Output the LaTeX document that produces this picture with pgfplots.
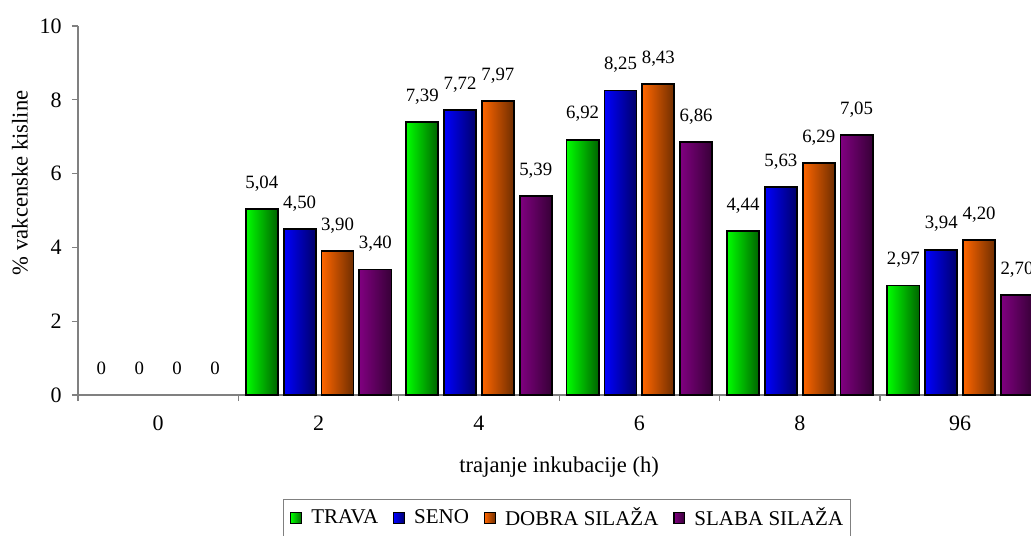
\documentclass[border=0pt]{standalone}
\usepackage{pgfplots}
\usepackage{pgfplotstable}
\pgfplotsset{compat=1.18}
\usepackage{fontspec}
\setmainfont{Liberation Serif}

% bar colours: bright face fading to a dark right edge
\definecolor{travaA}{RGB}{0,255,0}
\definecolor{travaB}{RGB}{0,100,0}
\definecolor{senoA}{RGB}{0,0,255}
\definecolor{senoB}{RGB}{0,0,105}
\definecolor{dobraA}{RGB}{255,102,0}
\definecolor{dobraB}{RGB}{110,45,0}
\definecolor{slabaA}{RGB}{128,0,128}
\definecolor{slabaB}{RGB}{55,0,55}

% x = category index (0 h, 2 h, 4 h, 6 h, 8 h, 96 h)
\pgfplotstableread{
x trava seno dobra slaba
0 0    0    0    0
1 5.04 4.50 3.90 3.40
2 7.39 7.72 7.97 5.39
3 6.92 8.25 8.43 6.86
4 4.44 5.63 6.29 7.05
5 2.97 3.94 4.20 2.70
}\vkdata

\pgfplotsset{
  shadedbar/.style n args={2}{draw=black, line width=0.9pt,
    left color=#1, middle color=#1, right color=#2},
  % one bar per plot, so that each bar gets its own shading
  onebar/.style={forget plot, restrict x to domain=#1:#1},
  zerolabel/.style={draw=none, fill=none, forget plot,
    restrict x to domain=0:0},
}

\begin{document}
\begin{tikzpicture}
\begin{axis}[
  at={(0,0)}, anchor=south west,
  scale only axis, width=481.2pt, height=184.5pt,
  xmin=-0.5, xmax=5.5, ymin=0, ymax=10,
  axis lines*=left,
  axis line style={gray, line width=0.6pt},
  tick align=outside,
  major tick length=3pt,
  tick style={gray, line width=0.6pt},
  xtick={-0.5,0.5,...,5.5},
  xticklabels={},
  extra x ticks={0,1,2,3,4,5},
  extra x tick labels={0,2,4,6,8,96},
  extra x tick style={major tick length=0pt},
  ytick={0,2,...,10},
  /pgf/number format/assume math mode=true,
  ticklabel style={font=\fontsize{11}{13}\selectfont, black},
  xticklabel style={anchor=base, inner sep=0pt, yshift=-17.5pt},
  yticklabel style={anchor=east, inner sep=0pt, xshift=-5pt},
  xlabel={trajanje inkubacije (h)},
  xlabel style={at={(axis description cs:0.5,-0.195)}, anchor=center,
    font=\fontsize{11.3}{13}\selectfont},
  ylabel={\% vakcenske kisline},
  ylabel style={at={(axis description cs:-0.0603,0.575)}, anchor=center,
    font=\fontsize{11.3}{13}\selectfont},
  ybar, bar width=0.2,
  nodes near coords={\pgfmathfloatifflags{\pgfplotspointmeta}{0}{0}%
    {\pgfmathprintnumber[fixed,fixed zerofill,precision=2,use comma]{\pgfplotspointmeta}}},
  every node near coord/.append style={anchor=base, inner sep=0pt, yshift=10.4pt,
    font=\fontsize{9.4}{11}\selectfont, text=black},
  legend columns=4,
  legend image code/.code={%
    \draw[#1, draw=black, line width=0.6pt] (0pt,-2.7pt) rectangle (5.4pt,2.7pt);},
  legend style={at={(axis description cs:0.2128,-0.2818)}, anchor=north west,
    draw=gray, line width=0.5pt, font=\fontsize{10.5}{12}\selectfont,
    inner xsep=3.5pt, inner ysep=4pt,
    nodes={inner sep=0pt},
    /tikz/every odd column/.append style={column sep=4.5pt},
    /tikz/every even column/.append style={column sep=7.5pt}},
]
\addlegendimage{shadedbar={travaA}{travaB}}
\addlegendentry{TRAVA}
\addlegendimage{shadedbar={senoA}{senoB}}
\addlegendentry{SENO}
\addlegendimage{shadedbar={dobraA}{dobraB}}
\addlegendentry{DOBRA SILAŽA}
\addlegendimage{shadedbar={slabaA}{slabaB}}
\addlegendentry{SLABA SILAŽA}
\pgfplotsinvokeforeach{1,2,3,4,5}{
  \addplot[shadedbar={travaA}{travaB}, bar shift=-0.354, onebar=#1] table[x=x, y=trava] {\vkdata};
  \addplot[shadedbar={senoA}{senoB}, bar shift=-0.118, onebar=#1] table[x=x, y=seno] {\vkdata};
  \addplot[shadedbar={dobraA}{dobraB}, bar shift=0.118, onebar=#1] table[x=x, y=dobra] {\vkdata};
  \addplot[shadedbar={slabaA}{slabaB}, bar shift=0.354, onebar=#1] table[x=x, y=slaba] {\vkdata};
}
% the 0 h group has no bars, only its value labels
\addplot[zerolabel, bar shift=-0.354] table[x=x, y=trava] {\vkdata};
\addplot[zerolabel, bar shift=-0.118] table[x=x, y=seno] {\vkdata};
\addplot[zerolabel, bar shift=0.118] table[x=x, y=dobra] {\vkdata};
\addplot[zerolabel, bar shift=0.354] table[x=x, y=slaba] {\vkdata};
\end{axis}
\pgfresetboundingbox
\path[use as bounding box] (-39pt,-70pt) rectangle (476.5pt,197.5pt);
\end{tikzpicture}
\end{document}
